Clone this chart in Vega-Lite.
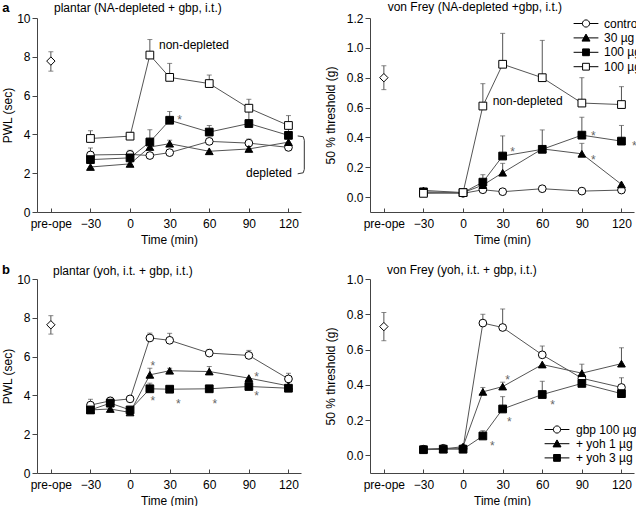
{
"$schema":"https://vega.github.io/schema/vega-lite/v6.json",
"padding":{"left":1,"top":0,"right":0,"bottom":0},
"config":{"font":"Liberation Sans","view":{"stroke":null},
 "axis":{"grid":false,"domainColor":"#444","tickColor":"#444","labelColor":"#000","titleColor":"#000","labelFontSize":12,"titleFontSize":12,"titleFontWeight":"normal"},
 "axisX":{"tickSize":-4,"labelPadding":10,"titlePadding":5,"labelFlush":false},
 "axisY":{"tickSize":5,"labelPadding":2,"titlePadding":2},
 "legend":{"padding":0}
},
"datasets":{
"a1":[
{"s":"pre","t":-60,"v":7.78,"lo":7.26,"hi":8.26},
{"s":"control","t":-30,"v":2.94,"hi":3.3},{"s":"control","t":0,"v":2.97},{"s":"control","t":15,"v":2.91},{"s":"control","t":30,"v":3.06},{"s":"control","t":60,"v":3.64},{"s":"control","t":90,"v":3.55,"hi":3.76},{"s":"control","t":120,"v":3.33},
{"s":"30 µg","t":-30,"v":2.32},{"s":"30 µg","t":0,"v":2.48},{"s":"30 µg","t":15,"v":3.35},{"s":"30 µg","t":30,"v":3.52,"hi":3.7},{"s":"30 µg","t":60,"v":3.13},{"s":"30 µg","t":90,"v":3.25},{"s":"30 µg","t":120,"v":3.6},
{"s":"100 µg","t":-30,"v":2.7},{"s":"100 µg","t":0,"v":2.79,"hi":3.18},{"s":"100 µg","t":15,"v":3.61,"hi":4.24},{"s":"100 µg","t":30,"v":4.73,"hi":5.18},{"s":"100 µg","t":60,"v":4.12,"hi":4.46},{"s":"100 µg","t":90,"v":4.56,"hi":5.25},{"s":"100 µg","t":120,"v":3.95,"hi":4.4},
{"s":"100 µg nd","t":-30,"v":3.79,"hi":4.19},{"s":"100 µg nd","t":0,"v":3.91,"hi":4.08},{"s":"100 µg nd","t":15,"v":8.09,"hi":8.89},{"s":"100 µg nd","t":30,"v":6.94,"hi":7.66},{"s":"100 µg nd","t":60,"v":6.62,"hi":7.06},{"s":"100 µg nd","t":90,"v":5.35,"hi":5.81},{"s":"100 µg nd","t":120,"v":4.46,"hi":4.97}
],
"a2":[
{"s":"pre","t":-60,"v":0.80,"lo":0.72,"hi":0.88},
{"s":"control","t":-30,"v":0.03},{"s":"control","t":0,"v":0.025},{"s":"control","t":15,"v":0.049},{"s":"control","t":30,"v":0.036},{"s":"control","t":60,"v":0.056},{"s":"control","t":90,"v":0.04},{"s":"control","t":120,"v":0.047},
{"s":"30 µg","t":-30,"v":0.045},{"s":"30 µg","t":0,"v":0.03},{"s":"30 µg","t":15,"v":0.08},{"s":"30 µg","t":30,"v":0.163,"hi":0.226},{"s":"30 µg","t":60,"v":0.323},{"s":"30 µg","t":90,"v":0.29,"hi":0.36},{"s":"30 µg","t":120,"v":0.085},
{"s":"100 µg","t":-30,"v":0.035},{"s":"100 µg","t":0,"v":0.03},{"s":"100 µg","t":15,"v":0.10,"hi":0.15},{"s":"100 µg","t":30,"v":0.275,"hi":0.41},{"s":"100 µg","t":60,"v":0.32,"hi":0.45},{"s":"100 µg","t":90,"v":0.415,"hi":0.535},{"s":"100 µg","t":120,"v":0.375,"hi":0.48},
{"s":"100 µg nd","t":-30,"v":0.025},{"s":"100 µg nd","t":0,"v":0.03},{"s":"100 µg nd","t":15,"v":0.61,"hi":0.76},{"s":"100 µg nd","t":30,"v":0.89,"hi":1.097},{"s":"100 µg nd","t":60,"v":0.80,"hi":1.05},{"s":"100 µg nd","t":90,"v":0.63,"hi":0.80},{"s":"100 µg nd","t":120,"v":0.62,"hi":0.74}
],
"b1":[
{"s":"pre","t":-60,"v":7.64,"lo":7.16,"hi":8.11},
{"s":"gbp 100 µg","t":-30,"v":3.5,"hi":3.8},{"s":"gbp 100 µg","t":-15,"v":3.72,"hi":3.9},{"s":"gbp 100 µg","t":0,"v":3.82},{"s":"gbp 100 µg","t":15,"v":6.96,"hi":7.21},{"s":"gbp 100 µg","t":30,"v":6.84,"hi":7.2},{"s":"gbp 100 µg","t":60,"v":6.18,"hi":6.37},{"s":"gbp 100 µg","t":90,"v":6.06,"hi":6.32},{"s":"gbp 100 µg","t":120,"v":4.85,"hi":5.14},
{"s":"+ yoh 1 µg","t":-30,"v":3.25},{"s":"+ yoh 1 µg","t":-15,"v":3.3},{"s":"+ yoh 1 µg","t":0,"v":3.12},{"s":"+ yoh 1 µg","t":15,"v":5.06,"hi":5.4},{"s":"+ yoh 1 µg","t":30,"v":5.27,"hi":5.4},{"s":"+ yoh 1 µg","t":60,"v":5.23,"hi":5.49},{"s":"+ yoh 1 µg","t":90,"v":4.89},{"s":"+ yoh 1 µg","t":120,"v":4.49},
{"s":"+ yoh 3 µg","t":-30,"v":3.25},{"s":"+ yoh 3 µg","t":-15,"v":3.6},{"s":"+ yoh 3 µg","t":0,"v":3.25},{"s":"+ yoh 3 µg","t":15,"v":4.34,"hi":4.63},{"s":"+ yoh 3 µg","t":30,"v":4.32},{"s":"+ yoh 3 µg","t":60,"v":4.34},{"s":"+ yoh 3 µg","t":90,"v":4.46},{"s":"+ yoh 3 µg","t":120,"v":4.37}
],
"b2":[
{"s":"pre","t":-60,"v":0.73,"lo":0.65,"hi":0.81},
{"s":"gbp 100 µg","t":-30,"v":0.035},{"s":"gbp 100 µg","t":-15,"v":0.04},{"s":"gbp 100 µg","t":0,"v":0.04},{"s":"gbp 100 µg","t":15,"v":0.75,"hi":0.80},{"s":"gbp 100 µg","t":30,"v":0.725,"hi":0.83},{"s":"gbp 100 µg","t":60,"v":0.57,"hi":0.62},{"s":"gbp 100 µg","t":90,"v":0.437},{"s":"gbp 100 µg","t":120,"v":0.385,"hi":0.44},
{"s":"+ yoh 1 µg","t":-30,"v":0.035},{"s":"+ yoh 1 µg","t":-15,"v":0.035},{"s":"+ yoh 1 µg","t":0,"v":0.05},{"s":"+ yoh 1 µg","t":15,"v":0.36,"hi":0.385},{"s":"+ yoh 1 µg","t":30,"v":0.39,"hi":0.415},{"s":"+ yoh 1 µg","t":60,"v":0.515},{"s":"+ yoh 1 µg","t":90,"v":0.466,"hi":0.517},{"s":"+ yoh 1 µg","t":120,"v":0.52,"hi":0.61},
{"s":"+ yoh 3 µg","t":-30,"v":0.032},{"s":"+ yoh 3 µg","t":-15,"v":0.035},{"s":"+ yoh 3 µg","t":0,"v":0.035},{"s":"+ yoh 3 µg","t":15,"v":0.11,"hi":0.14},{"s":"+ yoh 3 µg","t":30,"v":0.263,"hi":0.333},{"s":"+ yoh 3 µg","t":60,"v":0.345,"hi":0.42},{"s":"+ yoh 3 µg","t":90,"v":0.408},{"s":"+ yoh 3 µg","t":120,"v":0.35}
],
"a1s":[{"t":37.6,"v":4.91}],
"a2s":[{"t":37.6,"v":0.32},{"t":98.7,"v":0.431},{"t":98.7,"v":0.269},{"t":129.8,"v":0.364}],
"b1s":[{"t":17.2,"v":5.69},{"t":17.2,"v":3.87},{"t":36.5,"v":3.71},{"t":64.3,"v":3.71},{"t":95.9,"v":5.12},{"t":95.9,"v":4.12}],
"b2s":[{"t":33.8,"v":0.444},{"t":35.0,"v":0.208},{"t":67.9,"v":0.302},{"t":22.2,"v":0.07}],
"a1n":[{"t":-57.6,"v":10.515,"label":"plantar (NA-depleted + gbp, i.t.)"},{"t":21.9,"v":8.61,"label":"non-depleted"},{"t":87.8,"v":2.01,"label":"depleted"}],
"a2n":[{"t":-57.1,"v":1.274,"label":"von Frey (NA-depleted +gbp, i.t.)"},{"t":22.4,"v":0.644,"label":"non-depleted"}],
"b1n":[{"t":-58.4,"v":10.43,"label":"plantar (yoh, i.t. + gbp, i.t.)"}],
"b2n":[{"t":-57.6,"v":1.051,"label":"von Frey (yoh, i.t. + gbp, i.t.)"}],
"a1l":[{"t":-94,"v":10.515,"label":"a"}],
"b1l":[{"t":-94,"v":10.45,"label":"b"}],
"brace":[{"i":1,"t":127,"v":3.92},{"i":2,"t":131.2,"v":3.88},{"i":3,"t":132,"v":3.7},{"i":4,"t":132,"v":2.2},{"i":5,"t":131.2,"v":2.02},{"i":6,"t":127,"v":1.97}]
},
"concat":[
{
 "width":264,"height":194,
 "data":{"name":"a1"},
 "encoding":{
  "x":{"field":"t","type":"quantitative","scale":{"domain":[-70.5,129.5],"nice":false,"zero":false},"axis":{"values":[-60,-30,0,30,60,90,120],"labelExpr":"datum.value == -60 ? 'pre-ope' : datum.label","title":"Time (min)"}},
  "y":{"field":"v","type":"quantitative","scale":{"domain":[0,10],"nice":false,"zero":false},"axis":{"values":[0,2,4,6,8,10],"title":"PWL (sec)"}}
 },
 "layer":[
  {"transform":[{"filter":"datum.s != 'pre'"}],"mark":{"type":"line","color":"#555","strokeWidth":1},"encoding":{"detail":{"field":"s"}}},
  {"transform":[{"filter":"isValid(datum.hi)"}],"mark":{"type":"rule","color":"#555","strokeWidth":1},"encoding":{"y2":{"field":"hi"}}},
  {"transform":[{"filter":"isValid(datum.hi)"}],"mark":{"type":"tick","orient":"horizontal","size":5,"thickness":1,"color":"#555"},"encoding":{"y":{"field":"hi","type":"quantitative"}}},
  {"transform":[{"filter":"isValid(datum.lo)"}],"mark":{"type":"rule","color":"#555","strokeWidth":1},"encoding":{"y2":{"field":"lo"}}},
  {"transform":[{"filter":"isValid(datum.lo)"}],"mark":{"type":"tick","orient":"horizontal","size":5,"thickness":1,"color":"#555"},"encoding":{"y":{"field":"lo","type":"quantitative"}}},
  {"transform":[{"filter":"datum.s != 'pre'"}],"mark":{"type":"point","filled":true,"size":60,"stroke":"black","strokeWidth":1,"opacity":1},
   "encoding":{"shape":{"field":"s","type":"nominal","scale":{"domain":["control","30 µg","100 µg","100 µg nd"],"range":["circle","triangle-up","square","square"]},"legend":null},
    "fill":{"field":"s","type":"nominal","scale":{"domain":["control","30 µg","100 µg","100 µg nd"],"range":["white","black","black","white"]},"legend":null}}},
  {"transform":[{"filter":"datum.s == 'pre'"}],"mark":{"type":"point","shape":"diamond","filled":true,"fill":"white","stroke":"black","strokeWidth":1,"size":70,"opacity":1}},
  {"data":{"name":"a1s"},"mark":{"type":"text","text":"*","fontSize":12,"color":"#666","dy":3}},
  {"data":{"name":"brace"},"mark":{"type":"line","color":"#333","strokeWidth":1,"clip":false},"encoding":{"order":{"field":"i","type":"quantitative"}}},
  {"data":{"name":"a1n"},"mark":{"type":"text","align":"left","baseline":"middle","fontSize":12,"color":"black","clip":false},"encoding":{"text":{"field":"label","type":"nominal"}}},
  {"data":{"name":"a1l"},"mark":{"type":"text","align":"center","baseline":"middle","fontSize":13,"fontWeight":"bold","color":"black","clip":false},"encoding":{"text":{"field":"label","type":"nominal"}}}
 ]
},
{
 "width":264,"height":194,
 "data":{"name":"a2"},
 "encoding":{
  "x":{"field":"t","type":"quantitative","scale":{"domain":[-70.5,129.5],"nice":false,"zero":false},"axis":{"values":[-60,-30,0,30,60,90,120],"labelExpr":"datum.value == -60 ? 'pre-ope' : datum.label","title":"Time (min)"}},
  "y":{"field":"v","type":"quantitative","scale":{"domain":[-0.1,1.2],"nice":false,"zero":false},"axis":{"values":[0,0.2,0.4,0.6,0.8,1.0,1.2],"format":".1f","title":"50 % threshold (g)","titlePadding":9}}
 },
 "resolve":{"scale":{"shape":"independent","fill":"independent","stroke":"independent"}},
 "layer":[
  {"transform":[{"filter":"datum.s != 'pre'"}],"mark":{"type":"line","color":"#555","strokeWidth":1},"encoding":{"detail":{"field":"s"}}},
  {"transform":[{"filter":"isValid(datum.hi)"}],"mark":{"type":"rule","color":"#555","strokeWidth":1},"encoding":{"y2":{"field":"hi"}}},
  {"transform":[{"filter":"isValid(datum.hi)"}],"mark":{"type":"tick","orient":"horizontal","size":5,"thickness":1,"color":"#555"},"encoding":{"y":{"field":"hi","type":"quantitative"}}},
  {"transform":[{"filter":"isValid(datum.lo)"}],"mark":{"type":"rule","color":"#555","strokeWidth":1},"encoding":{"y2":{"field":"lo"}}},
  {"transform":[{"filter":"isValid(datum.lo)"}],"mark":{"type":"tick","orient":"horizontal","size":5,"thickness":1,"color":"#555"},"encoding":{"y":{"field":"lo","type":"quantitative"}}},
  {"transform":[{"filter":"datum.s != 'pre'"}],"mark":{"type":"point","filled":true,"size":60,"stroke":"black","strokeWidth":1,"opacity":1},
   "encoding":{"shape":{"field":"s","type":"nominal","scale":{"domain":["control","30 µg","100 µg","100 µg nd"],"range":["circle","triangle-up","square","square"]},"legend":null},
    "fill":{"field":"s","type":"nominal","scale":{"domain":["control","30 µg","100 µg","100 µg nd"],"range":["white","black","black","white"]},"legend":null}}},
  {"transform":[{"filter":"datum.t > 1000"}],"mark":{"type":"point","filled":true,"strokeWidth":1,"opacity":1},
   "encoding":{"shape":{"field":"s","type":"nominal","scale":{"domain":["control","30 µg","100 µg","100 µg nd"],"range":["M-3.1,0H-0.9M0.9,0H3.1M0.9,0A0.9,0.9,0,1,1,-0.9,0A0.9,0.9,0,1,1,0.9,0","M-3.1,0H3.1M0,-0.95L1,0.8L-1,0.8Z","M-3.1,0H3.1M-0.85,-0.85H0.85V0.85H-0.85Z","M-3.1,0H-0.85M0.85,0H3.1M-0.85,-0.85H0.85V0.85H-0.85Z"]},
     "legend":{"orient":"none","legendX":210,"legendY":-0.5,"title":null,"symbolSize":64,"labelOffset":12,"rowPadding":2.4,"labelFontSize":12,"symbolStrokeWidth":1,"labelExpr":"datum.label == '100 µg nd' ? '100 µg' : datum.label"}},
    "fill":{"field":"s","type":"nominal","scale":{"domain":["control","30 µg","100 µg","100 µg nd"],"range":["white","black","black","white"]},
     "legend":{"orient":"none","legendX":210,"legendY":-0.5,"title":null,"symbolSize":64,"labelOffset":12,"rowPadding":2.4,"labelFontSize":12,"symbolStrokeWidth":1,"labelExpr":"datum.label == '100 µg nd' ? '100 µg' : datum.label"}},
    "stroke":{"field":"s","type":"nominal","scale":{"domain":["control","30 µg","100 µg","100 µg nd"],"range":["black","black","black","black"]},
     "legend":{"orient":"none","legendX":210,"legendY":-0.5,"title":null,"symbolSize":64,"labelOffset":12,"rowPadding":2.4,"labelFontSize":12,"symbolStrokeWidth":1,"labelExpr":"datum.label == '100 µg nd' ? '100 µg' : datum.label"}}}},
  {"transform":[{"filter":"datum.s == 'pre'"}],"mark":{"type":"point","shape":"diamond","filled":true,"fill":"white","stroke":"black","strokeWidth":1,"size":70,"opacity":1}},
  {"data":{"name":"a2s"},"mark":{"type":"text","text":"*","fontSize":12,"color":"#666","dy":3,"clip":false}},
  {"data":{"name":"a2n"},"mark":{"type":"text","align":"left","baseline":"middle","fontSize":12,"color":"black","clip":false},"encoding":{"text":{"field":"label","type":"nominal"}}}
 ]
},
{
 "width":264,"height":194,
 "data":{"name":"b1"},
 "encoding":{
  "x":{"field":"t","type":"quantitative","scale":{"domain":[-70.5,129.5],"nice":false,"zero":false},"axis":{"values":[-60,-30,0,30,60,90,120],"labelExpr":"datum.value == -60 ? 'pre-ope' : datum.label","title":"Time (min)"}},
  "y":{"field":"v","type":"quantitative","scale":{"domain":[0,10],"nice":false,"zero":false},"axis":{"values":[0,2,4,6,8,10],"title":"PWL (sec)"}}
 },
 "layer":[
  {"transform":[{"filter":"datum.s != 'pre'"}],"mark":{"type":"line","color":"#555","strokeWidth":1},"encoding":{"detail":{"field":"s"}}},
  {"transform":[{"filter":"isValid(datum.hi)"}],"mark":{"type":"rule","color":"#555","strokeWidth":1},"encoding":{"y2":{"field":"hi"}}},
  {"transform":[{"filter":"isValid(datum.hi)"}],"mark":{"type":"tick","orient":"horizontal","size":5,"thickness":1,"color":"#555"},"encoding":{"y":{"field":"hi","type":"quantitative"}}},
  {"transform":[{"filter":"isValid(datum.lo)"}],"mark":{"type":"rule","color":"#555","strokeWidth":1},"encoding":{"y2":{"field":"lo"}}},
  {"transform":[{"filter":"isValid(datum.lo)"}],"mark":{"type":"tick","orient":"horizontal","size":5,"thickness":1,"color":"#555"},"encoding":{"y":{"field":"lo","type":"quantitative"}}},
  {"transform":[{"filter":"datum.s != 'pre'"}],"mark":{"type":"point","filled":true,"size":60,"stroke":"black","strokeWidth":1,"opacity":1},
   "encoding":{"shape":{"field":"s","type":"nominal","scale":{"domain":["gbp 100 µg","+ yoh 1 µg","+ yoh 3 µg"],"range":["circle","triangle-up","square"]},"legend":null},
    "fill":{"field":"s","type":"nominal","scale":{"domain":["gbp 100 µg","+ yoh 1 µg","+ yoh 3 µg"],"range":["white","black","black"]},"legend":null}}},
  {"transform":[{"filter":"datum.s == 'pre'"}],"mark":{"type":"point","shape":"diamond","filled":true,"fill":"white","stroke":"black","strokeWidth":1,"size":70,"opacity":1}},
  {"data":{"name":"b1s"},"mark":{"type":"text","text":"*","fontSize":12,"color":"#666","dy":3}},
  {"data":{"name":"b1n"},"mark":{"type":"text","align":"left","baseline":"middle","fontSize":12,"color":"black","clip":false},"encoding":{"text":{"field":"label","type":"nominal"}}},
  {"data":{"name":"b1l"},"mark":{"type":"text","align":"center","baseline":"middle","fontSize":13,"fontWeight":"bold","color":"black","clip":false},"encoding":{"text":{"field":"label","type":"nominal"}}}
 ]
},
{
 "width":264,"height":194,
 "data":{"name":"b2"},
 "encoding":{
  "x":{"field":"t","type":"quantitative","scale":{"domain":[-70.5,129.5],"nice":false,"zero":false},"axis":{"values":[-60,-30,0,30,60,90,120],"labelExpr":"datum.value == -60 ? 'pre-ope' : datum.label","title":"Time (min)"}},
  "y":{"field":"v","type":"quantitative","scale":{"domain":[-0.1,1.0],"nice":false,"zero":false},"axis":{"values":[0,0.2,0.4,0.6,0.8,1.0],"format":".1f","title":"50 % threshold (g)","titlePadding":9}}
 },
 "resolve":{"scale":{"shape":"independent","fill":"independent","stroke":"independent"}},
 "layer":[
  {"transform":[{"filter":"datum.s != 'pre'"}],"mark":{"type":"line","color":"#555","strokeWidth":1},"encoding":{"detail":{"field":"s"}}},
  {"transform":[{"filter":"isValid(datum.hi)"}],"mark":{"type":"rule","color":"#555","strokeWidth":1},"encoding":{"y2":{"field":"hi"}}},
  {"transform":[{"filter":"isValid(datum.hi)"}],"mark":{"type":"tick","orient":"horizontal","size":5,"thickness":1,"color":"#555"},"encoding":{"y":{"field":"hi","type":"quantitative"}}},
  {"transform":[{"filter":"isValid(datum.lo)"}],"mark":{"type":"rule","color":"#555","strokeWidth":1},"encoding":{"y2":{"field":"lo"}}},
  {"transform":[{"filter":"isValid(datum.lo)"}],"mark":{"type":"tick","orient":"horizontal","size":5,"thickness":1,"color":"#555"},"encoding":{"y":{"field":"lo","type":"quantitative"}}},
  {"transform":[{"filter":"datum.s != 'pre'"}],"mark":{"type":"point","filled":true,"size":60,"stroke":"black","strokeWidth":1,"opacity":1},
   "encoding":{"shape":{"field":"s","type":"nominal","scale":{"domain":["gbp 100 µg","+ yoh 1 µg","+ yoh 3 µg"],"range":["circle","triangle-up","square"]},"legend":null},
    "fill":{"field":"s","type":"nominal","scale":{"domain":["gbp 100 µg","+ yoh 1 µg","+ yoh 3 µg"],"range":["white","black","black"]},"legend":null}}},
  {"transform":[{"filter":"datum.t > 1000"}],"mark":{"type":"point","filled":true,"strokeWidth":1,"opacity":1},
   "encoding":{"shape":{"field":"s","type":"nominal","scale":{"domain":["gbp 100 µg","+ yoh 1 µg","+ yoh 3 µg"],"range":["M-3.1,0H-0.9M0.9,0H3.1M0.9,0A0.9,0.9,0,1,1,-0.9,0A0.9,0.9,0,1,1,0.9,0","M-3.1,0H3.1M0,-0.95L1,0.8L-1,0.8Z","M-3.1,0H3.1M-0.85,-0.85H0.85V0.85H-0.85Z"]},
     "legend":{"orient":"none","legendX":181,"legendY":144.5,"title":null,"symbolSize":64,"labelOffset":13,"rowPadding":2.2,"labelFontSize":12,"symbolStrokeWidth":1}},
    "fill":{"field":"s","type":"nominal","scale":{"domain":["gbp 100 µg","+ yoh 1 µg","+ yoh 3 µg"],"range":["white","black","black"]},
     "legend":{"orient":"none","legendX":181,"legendY":144.5,"title":null,"symbolSize":64,"labelOffset":13,"rowPadding":2.2,"labelFontSize":12,"symbolStrokeWidth":1}},
    "stroke":{"field":"s","type":"nominal","scale":{"domain":["gbp 100 µg","+ yoh 1 µg","+ yoh 3 µg"],"range":["black","black","black"]},
     "legend":{"orient":"none","legendX":181,"legendY":144.5,"title":null,"symbolSize":64,"labelOffset":13,"rowPadding":2.2,"labelFontSize":12,"symbolStrokeWidth":1}}}},
  {"transform":[{"filter":"datum.s == 'pre'"}],"mark":{"type":"point","shape":"diamond","filled":true,"fill":"white","stroke":"black","strokeWidth":1,"size":70,"opacity":1}},
  {"data":{"name":"b2s"},"mark":{"type":"text","text":"*","fontSize":12,"color":"#666","dy":3}},
  {"data":{"name":"b2n"},"mark":{"type":"text","align":"left","baseline":"middle","fontSize":12,"color":"black","clip":false},"encoding":{"text":{"field":"label","type":"nominal"}}}
 ]
}
],
"columns":2,
"spacing":{"row":67,"column":69},
"bounds":"flush",
"resolve":{"scale":{"x":"independent","y":"independent","shape":"independent","fill":"independent","stroke":"independent"}}
}
